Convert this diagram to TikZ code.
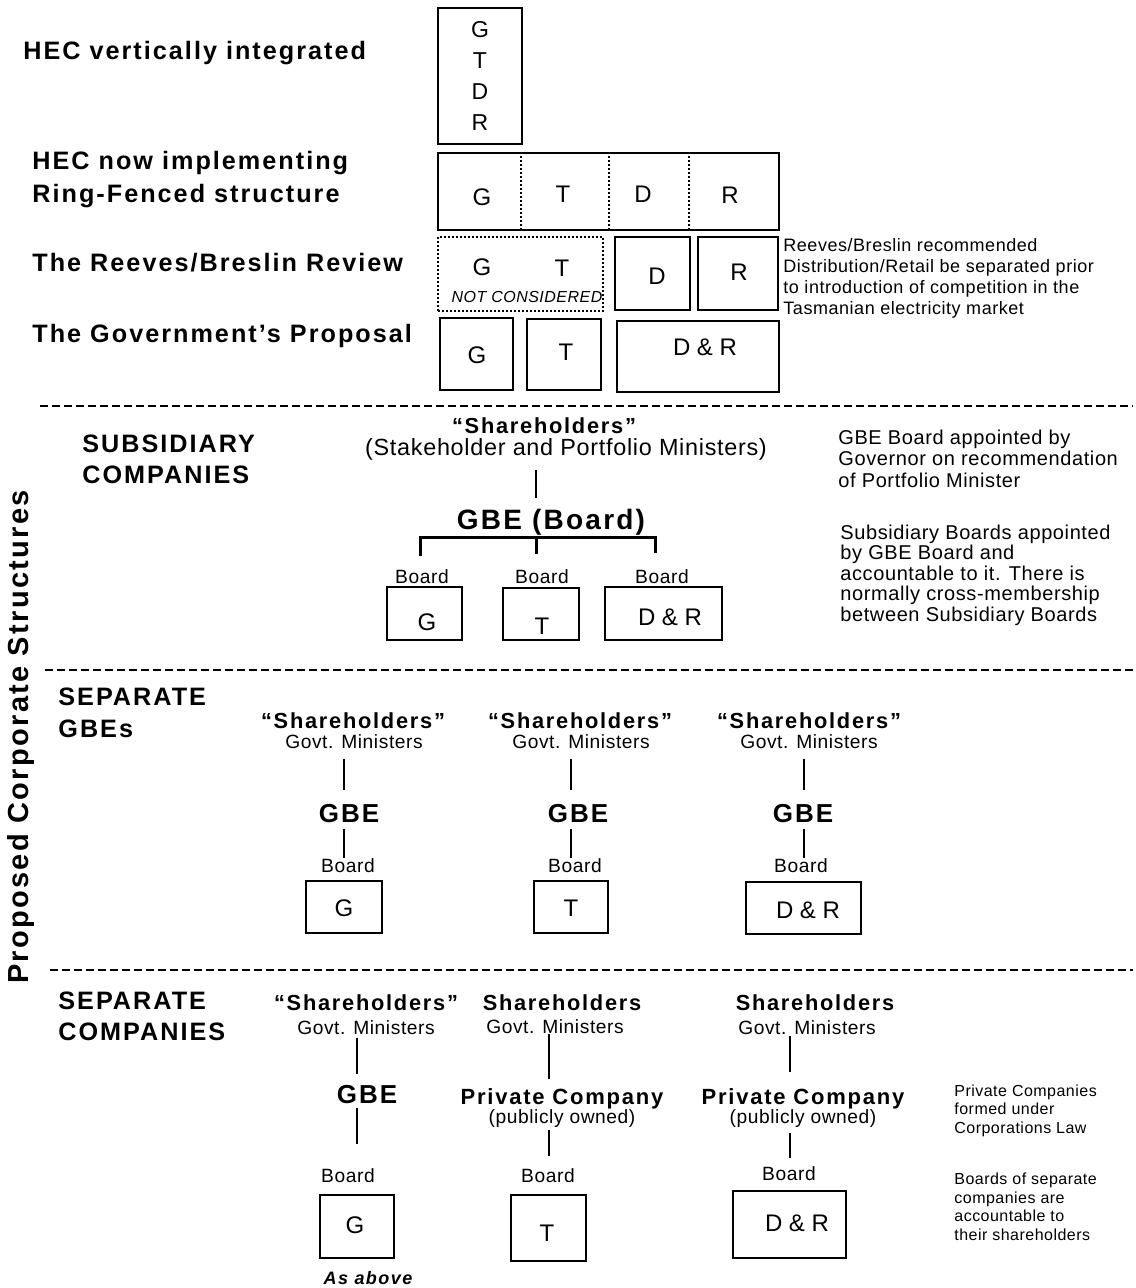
\documentclass[tikz,border=0pt]{standalone}
\usepackage{fontspec}
\setmainfont{Liberation Sans}
\usepackage{tikz}
\usetikzlibrary{positioning}

\begin{document}
\begin{tikzpicture}[x=0.5pt, y=-0.5pt,
    txt/.style = {inner sep=0pt, anchor=base},
    head/.style = {inner sep=0pt, anchor=base west, align=left,
      font=\bfseries\fontsize{12.6}{16}\selectfont\addfontfeature{LetterSpace=8}},
    owner/.style = {txt, font=\bfseries\fontsize{10.9}{13}\selectfont\addfontfeature{LetterSpace=8}},
    gbe/.style = {txt, font=\bfseries\fontsize{13}{15}\selectfont\addfontfeature{LetterSpace=8}},
    company/.style = {txt, font=\bfseries\fontsize{11}{13}\selectfont\addfontfeature{LetterSpace=8}},
    minister/.style = {txt, font=\fontsize{9.6}{11}\selectfont\addfontfeature{LetterSpace=3}},
    board/.style = {txt, font=\fontsize{9.6}{11}\selectfont\addfontfeature{LetterSpace=3}},
    note/.style = {inner sep=0pt, anchor=base west, align=left},
    unit/.style = {draw, line width=1pt, inner sep=0pt},
    letter/.style = {inner sep=0pt, font=\fontsize{12}{14}\selectfont},
    link/.style = {line width=1pt},
    fork/.style = {line width=1.5pt},
    cut/.style = {line width=1pt, dash pattern=on 4pt off 2pt},
    split/.style = {line width=0.8pt, dash pattern=on 1pt off 1pt}]

\useasboundingbox (0,0) rectangle (1135,1288);

% how the HEC is and will be split
\node (hVert) at (23,60) [head] {HEC vertically integrated};
\node (hRing) at (32,203) [head, font=\bfseries\fontsize{12.6}{16.5}\selectfont\addfontfeature{LetterSpace=8}] {HEC now implementing\\Ring-Fenced structure};
\node (hReview) at (32,272) [head] {The Reeves/Breslin Review};
\node (hGovt) at (32,343) [head] {The Government’s Proposal};

\node (vi) at (480,76) [unit, minimum width=42pt, minimum height=68pt,
  align=center, font=\fontsize{11.5}{15.5}\selectfont] {G\\T\\D\\R};

\node (rf) at (608.5,191.5) [unit, minimum width=170.5pt, minimum height=38.5pt] {};
\foreach \dx in {42,86,126}
  \draw[split] ([xshift=\dx pt]rf.north west) -- ([xshift=\dx pt]rf.south west);
\node (rfG) at (482,197) [letter] {G};
\node (rfT) at (563,194) [letter] {T};
\node (rfD) at (643,194) [letter] {D};
\node (rfR) at (730,195) [letter] {R};

\node (rbGT) at (520.5,274) [unit, split, minimum width=82.5pt, minimum height=37pt] {};
\node (rbG) at (482,267) [letter] {G};
\node (rbT) at (562,268) [letter] {T};
\node (rbNot) at (527,297) [inner sep=0pt, font=\itshape\fontsize{8}{9}\selectfont\addfontfeature{LetterSpace=3}] {NOT CONSIDERED};
\node (rbD) at (652.5,273.5) [unit, minimum width=37.5pt, minimum height=36.5pt] {};
\node (rbDl) at (657,276) [letter] {D};
\node (rbR) at (738,273.5) [unit, minimum width=40pt, minimum height=36.5pt] {};
\node (rbRl) at (739,272) [letter] {R};
\node (nReview) at (783,315) [note, font=\fontsize{9}{10.5}\selectfont\addfontfeature{LetterSpace=3}]
  {Reeves/Breslin recommended\\Distribution/Retail be separated prior\\to introduction of competition in the\\Tasmanian electricity market};

\node (gpG) at (476.5,354) [unit, minimum width=36.5pt, minimum height=36pt] {};
\node (gpGl) at (477,355) [letter] {G};
\node (gpT) at (564,354.5) [unit, minimum width=37pt, minimum height=35.5pt] {};
\node (gpTl) at (566,352) [letter] {T};
\node (gpDR) at (698,356.5) [unit, minimum width=81pt, minimum height=35.5pt] {};
\node (gpDRl) at (705,347) [letter] {D \& R};

\node (side) at (21,737) [rotate=90, inner sep=0pt,
  font=\bfseries\fontsize{14.5}{16}\selectfont\addfontfeature{LetterSpace=8}] {Proposed Corporate Structures};

\draw[cut] (40,406) -- (1133,406);
\draw[cut] (45,670) -- (1133,670);
\draw[cut] (50,970) -- (1133,970);

% subsidiary companies
\node (hSub) at (82,483) [head, font=\bfseries\fontsize{12.6}{15.5}\selectfont\addfontfeature{LetterSpace=8}] {SUBSIDIARY\\COMPANIES};
\node (sh2) at (544,433) [owner] {“Shareholders”};
\node (stake) at (566,455) [txt, font=\fontsize{11.7}{13}\selectfont\addfontfeature{LetterSpace=3}] {(Stakeholder and Portfolio Ministers)};
\node (gbe2) at (551,529) [gbe, font=\bfseries\fontsize{14}{15}\selectfont\addfontfeature{LetterSpace=8}] {GBE (Board)};
\node (bG) at (422,583) [board] {Board};
\node (bT) at (542,583) [board] {Board};
\node (bDR) at (662,583) [board] {Board};
\node (sG) at (424.5,613.5) [unit, minimum width=37.5pt, minimum height=26.5pt] {};
\node (sGl) at (427,622) [letter] {G};
\node (sT) at (541,614) [unit, minimum width=38pt, minimum height=26pt] {};
\node (sTl) at (542,626) [letter] {T};
\node (sDR) at (663.5,613.5) [unit, minimum width=58.5pt, minimum height=26.5pt] {};
\node (sDRl) at (670,617) [letter] {D \& R};
\coordinate (fk) at (536,537);
\draw[link, shorten <=5pt, shorten >=5pt] (stake.south -| fk) -- (gbe2.north -| fk);
\draw[fork] ([xshift=-1pt,yshift=6.5pt]bG.north) |- (fk) -| ([xshift=-3.5pt,yshift=8pt]bDR.north);
\draw[fork] (fk) -- ([xshift=-3pt,yshift=7.5pt]bT.north);
\node (nGbe) at (838,487) [note, font=\fontsize{10}{10.5}\selectfont\addfontfeature{LetterSpace=3}]
  {GBE Board appointed by\\Governor on recommendation\\of Portfolio Minister};
\node (nSub) at (840,621) [note, font=\fontsize{10}{10.2}\selectfont\addfontfeature{LetterSpace=3}]
  {Subsidiary Boards appointed\\by GBE Board and\\accountable to it. There is\\normally cross-membership\\between Subsidiary Boards};

% separate GBEs
\node (hGbes) at (58,737) [head] {SEPARATE\\GBEs};
\node (sh3a) at (353,728) [owner] {“Shareholders”};
\node (sh3b) at (580,728) [owner] {“Shareholders”};
\node (sh3c) at (809,728) [owner] {“Shareholders”};
\node (mn3a) at (354,748) [minister] {Govt. Ministers};
\node (mn3b) at (581,748) [minister] {Govt. Ministers};
\node (mn3c) at (809,748) [minister] {Govt. Ministers};
\node (gbe3a) at (349,822) [gbe] {GBE};
\node (gbe3b) at (578,822) [gbe] {GBE};
\node (gbe3c) at (803,822) [gbe] {GBE};
\node (bd3a) at (348,872) [board] {Board};
\node (bd3b) at (575,872) [board] {Board};
\node (bd3c) at (801,872) [board] {Board};
\node (gG) at (344,907) [unit, minimum width=38pt, minimum height=26pt] {};
\node (gGl) at (344,908) [letter] {G};
\node (gT) at (571,907) [unit, minimum width=37pt, minimum height=26pt] {};
\node (gTl) at (571,908) [letter] {T};
\node (gDR) at (803.5,908) [unit, minimum width=57.5pt, minimum height=26pt] {};
\node (gDRl) at (808,910) [letter] {D \& R};
\draw[link, shorten <=5pt, shorten >=6.5pt] (mn3a.south -| gG) -- (gbe3a.north -| gG);
\draw[link, shorten <=5pt, shorten >=6.5pt] (mn3b.south -| gT) -- (gbe3b.north -| gT);
\draw[link, shorten <=5pt, shorten >=6.5pt] (mn3c.south -| gDR) -- (gbe3c.north -| gDR);
\draw[link, shorten <=3pt] (gbe3a.south -| gG) -- (bd3a.north -| gG);
\draw[link, shorten <=3pt] (gbe3b.south -| gT) -- (bd3b.north -| gT);
\draw[link, shorten <=3pt] (gbe3c.south -| gDR) -- (bd3c.north -| gDR);

% separate companies
\node (hCos) at (58,1040) [head, font=\bfseries\fontsize{12.6}{15.5}\selectfont\addfontfeature{LetterSpace=8}] {SEPARATE\\COMPANIES};
\node (sh4a) at (366,1010) [owner] {“Shareholders”};
\node (sh4b) at (562,1010) [owner] {Shareholders};
\node (sh4c) at (815,1010) [owner] {Shareholders};
\node (mn4a) at (366,1034) [minister] {Govt. Ministers};
\node (mn4b) at (555,1033) [minister] {Govt. Ministers};
\node (mn4c) at (807,1034) [minister] {Govt. Ministers};
\node (gbe4a) at (367,1103) [gbe] {GBE};
\node (pc4b) at (562,1104) [company] {Private Company};
\node (pc4c) at (803,1104) [company] {Private Company};
\node (po4b) at (562,1123) [minister] {(publicly owned)};
\node (po4c) at (803,1123) [minister] {(publicly owned)};
\node (bd4a) at (348,1182) [board] {Board};
\node (bd4b) at (548,1182) [board] {Board};
\node (bd4c) at (789,1180) [board] {Board};
\node (cG) at (357,1226.5) [unit, minimum width=37pt, minimum height=31.5pt] {};
\node (cGl) at (355,1225) [letter] {G};
\node (cT) at (548.5,1228) [unit, minimum width=37.5pt, minimum height=33pt] {};
\node (cTl) at (547,1233) [letter] {T};
\node (cDR) at (789.5,1224.5) [unit, minimum width=56.5pt, minimum height=33.5pt] {};
\node (cDRl) at (797,1223) [letter] {D \& R};
\node (asAbove) at (368,1284) [txt, font=\bfseries\itshape\fontsize{9}{11}\selectfont\addfontfeature{LetterSpace=8}] {As above};
\draw[link, shorten <=1.5pt, shorten >=5pt] (mn4a.south -| cG) -- (gbe4a.north -| cG);
\draw[link, shorten <=2pt, shorten >=12pt] (gbe4a.south -| cG) -- (bd4a.north -| cG);
\draw[link, shorten >=4.5pt] (mn4b.south -| cT) -- (pc4b.north -| cT);
\draw[link, shorten <=1.5pt, shorten >=6pt] (po4b.south -| cT) -- (bd4b.north -| cT);
\draw[link, shorten <=0.5pt, shorten >=8pt] (mn4c.south -| cDR) -- (pc4c.north -| cDR);
\draw[link, shorten <=3pt, shorten >=4pt] (po4c.south -| cDR) -- (bd4c.north -| cDR);
\node (nPriv) at (954,1133) [note, font=\fontsize{8}{9.25}\selectfont\addfontfeature{LetterSpace=3}]
  {Private Companies\\formed under\\Corporations Law};
\node (nBoards) at (954,1240) [note, font=\fontsize{8}{9.25}\selectfont\addfontfeature{LetterSpace=3}]
  {Boards of separate\\companies are\\accountable to\\their shareholders};

\end{tikzpicture}
\end{document}
